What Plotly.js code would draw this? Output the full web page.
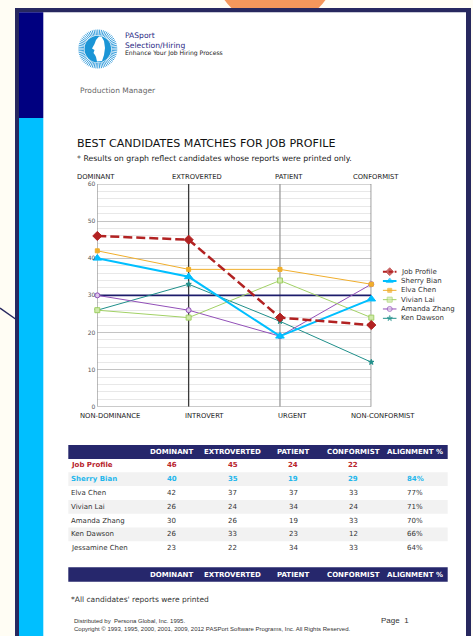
<!DOCTYPE html>
<html><head><meta charset="utf-8">
<script src="https://cdn.plot.ly/plotly-3.0.1.min.js"></script>
<style>html,body{margin:0;padding:0;background:#fffdf4;}#chart{width:473px;height:636px;}</style>
</head><body><div id="chart"></div>
<script>
const W = 473, H = 636;
// ---- data ----
const categories = ['DOMINANT', 'EXTROVERTED', 'PATIENT', 'CONFORMIST'];
const lowLabels = ['NON-DOMINANCE', 'INTROVERT', 'URGENT', 'NON-CONFORMIST'];
const seriesNames = ['Job Profile', 'Sherry Bian', 'Elva Chen', 'Vivian Lai', 'Amanda Zhang', 'Ken Dawson'];
const jobProfile = [46, 45, 24, 22];
const sherryBian = [40, 35, 19, 29];
const elvaChen = [42, 37, 37, 33];
const vivianLai = [26, 24, 34, 24];
const amandaZhang = [30, 26, 19, 33];
const kenDawson = [26, 33, 23, 12];
const jessamineChen = [23, 22, 34, 33];
const referenceLevel = 30;
const tableHeaders = ['DOMINANT', 'EXTROVERTED', 'PATIENT', 'CONFORMIST', 'ALIGNMENT %'];
const tableNames = ['Job Profile', 'Sherry Bian', 'Elva Chen', 'Vivian Lai', 'Amanda Zhang', 'Ken Dawson', 'Jessamine Chen'];
const tableScores = [jobProfile, sherryBian, elvaChen, vivianLai, amandaZhang, kenDawson, jessamineChen];
const alignment = ['', '84%', '77%', '71%', '70%', '66%', '64%'];

// ---- helpers ----
const px = x => x / W, py = y => 1 - y / H;
const FONT = 'DejaVu Sans';
const NAVY = '#27285f';
const styles = [
  {color: '#b22222', width: 2.5, dash: '9px,4px', symbol: 'diamond', size: 7, fill: '#b22222'},
  {color: '#00bfff', width: 2, dash: 'solid', symbol: 'triangle-up', size: 7.5, fill: '#00bfff'},
  {color: '#f0ae2c', width: 1, dash: 'solid', symbol: 'square', size: 4, fill: '#f0ae2c'},
  {color: '#a2d166', width: 1, dash: 'solid', symbol: 'square', size: 5, fill: '#cfe9a8'},
  {color: '#9250b8', width: 1, dash: 'solid', symbol: 'circle', size: 5, fill: '#dcc6ea'},
  {color: '#1f8f8a', width: 1, dash: 'solid', symbol: 'star', size: 4, fill: '#1f8f8a'}
];
const seriesData = [jobProfile, sherryBian, elvaChen, vivianLai, amandaZhang, kenDawson];

const traces = seriesData.map((vals, i) => ({
  type: 'scatter', mode: 'lines+markers', x: categories, y: vals, name: seriesNames[i],
  xaxis: 'x', yaxis: 'y', cliponaxis: false, showlegend: false, hoverinfo: 'skip',
  line: {color: styles[i].color, width: styles[i].width, dash: styles[i].dash},
  marker: {symbol: styles[i].symbol, size: styles[i].size, color: styles[i].fill,
           line: {color: styles[i].color, width: 1}}
})).reverse();

// legend samples on an overlay axis
seriesNames.forEach((n, i) => {
  traces.push({
    type: 'scatter', mode: 'lines+markers', x: [0, 0.5, 1], y: [i, i, i],
    xaxis: 'x2', yaxis: 'y2', cliponaxis: false, showlegend: false, hoverinfo: 'skip',
    line: {color: styles[i].color, width: Math.min(styles[i].width, 2), dash: i === 0 ? '4px,2px' : 'solid'},
    marker: {symbol: styles[i].symbol, size: [0, Math.min(styles[i].size, 6), 0], color: styles[i].fill,
             line: {color: styles[i].color, width: 1}}
  });
});

const shapes = [];
const rect = (x0, y0, x1, y1, fill, extra) => shapes.push(Object.assign({
  type: 'rect', xref: 'paper', yref: 'paper', x0: px(x0), x1: px(x1), y0: py(y1), y1: py(y0),
  fillcolor: fill, line: {width: 0}, layer: 'below'}, extra || {}));

// page decoration
shapes.push({type: 'circle', xref: 'paper', yref: 'paper', x0: px(213), x1: px(337), y0: py(26), y1: py(-98),
  fillcolor: '#f5975c', line: {width: 0}, layer: 'below'});
rect(15, 8, 471, 636, NAVY);
rect(19, 12.3, 466, 636, '#ffffff');
rect(19, 12.3, 43.3, 118, '#000080');
rect(19, 118, 43.3, 636, '#00bfff');
shapes.push({type: 'line', xref: 'paper', yref: 'paper', x0: px(0), y0: py(308), x1: px(15.5), y1: py(319),
  line: {color: NAVY, width: 1.5}, layer: 'below'});

// logo
(function () {
  const cx = 97.8, cy = 49;
  let p = '';
  for (let k = 0; k < 64; k++) {
    const a = k / 64 * 2 * Math.PI;
    const x0 = cx + 13.8 * Math.cos(a), y0 = cy + 13.8 * Math.sin(a);
    const x1 = cx + 19.5 * Math.cos(a), y1 = cy + 19.5 * Math.sin(a);
    p += `M${px(x0)},${py(y0)}L${px(x1)},${py(y1)}`;
  }
  shapes.push({type: 'path', xref: 'paper', yref: 'paper', path: p, line: {color: '#3fa2de', width: 1}, layer: 'below'});
  shapes.push({type: 'circle', xref: 'paper', yref: 'paper', x0: px(cx - 13.3), x1: px(cx + 13.3), y0: py(cy + 13.3), y1: py(cy - 13.3),
    fillcolor: '#1b95d6', line: {width: 0}, layer: 'below'});
  const face = [[99, 36.5], [96, 40], [94.5, 44], [92, 48.5], [94.5, 50], [93.5, 53], [95, 55], [96, 57], [97, 61.5],
    [102, 61], [104, 55], [105, 48], [104, 41], [101.5, 36.5]];
  shapes.push({type: 'path', xref: 'paper', yref: 'paper',
    path: 'M' + face.map(q => px(q[0]) + ',' + py(q[1])).join('L') + 'Z',
    fillcolor: '#ffffff', line: {width: 0}, layer: 'below'});
})();

// chart reference lines
const vColors = ['#9a9a9a', '#3a3a3a', '#9a9a9a', '#6a6a6a'];
[0, 60].forEach(v => shapes.push({type: 'line', xref: 'x', yref: 'y', x0: 0, x1: 3, y0: v, y1: v,
  line: {color: '#a8a8a8', width: 1}, layer: 'between'}));
categories.forEach((c, i) => shapes.push({type: 'line', xref: 'x', yref: 'y', x0: i, x1: i, y0: 0, y1: 60,
  line: {color: vColors[i], width: 1.3}, layer: 'between'}));
shapes.push({type: 'line', xref: 'x', yref: 'y', x0: 0, x1: 3, y0: referenceLevel, y1: referenceLevel,
  line: {color: '#1c1c6b', width: 1.6}, layer: 'between'});

// table bars
const colX = [171.7, 232.5, 293.3, 353.3, 415];
const rowY0 = 465.3, rowStep = 13.83;
rect(68.3, 445, 447.7, 459, '#26276c');
rect(68.3, 567.3, 447.7, 581.7, '#26276c');
tableNames.forEach((n, r) => {
  if (r % 2 === 1) rect(68.3, rowY0 + r * rowStep - rowStep / 2, 447.7, rowY0 + r * rowStep + rowStep / 2, '#f2f2f2');
});

// annotations
const ann = [];
const T = (text, x, y, o) => ann.push(Object.assign({
  text: text, xref: 'paper', yref: 'paper', x: px(x), y: py(y), showarrow: false,
  xanchor: 'left', yanchor: 'middle', borderpad: 0,
  font: {family: FONT, size: 7, color: '#222'}}, o || {}));

T('PASport', 124, 36, {font: {family: FONT, size: 7.6, color: '#2b2b85'}});
T('Selection/Hiring', 124, 45, {font: {family: FONT, size: 7.6, color: '#2b2b85'}});
T('Enhance Your Job Hiring Process', 124, 53.3, {font: {family: FONT, size: 6.1, color: '#222'}});
T('Production Manager', 79, 90.7, {font: {family: FONT, size: 7.5, color: '#666'}});
T('BEST CANDIDATES MATCHES FOR JOB PROFILE', 76, 143.3, {font: {family: FONT, size: 11.1, color: '#111'}});
T('* Results on graph reflect candidates whose reports were printed only.', 76, 158.3, {font: {family: FONT, size: 7.8, color: '#222'}});

const topX = [96, 196.7, 289, 376], lowX = [110, 204.7, 292, 382.5];
categories.forEach((c, i) => T(c, topX[i], 176.7, {xanchor: 'center', font: {family: FONT, size: 6.8, color: '#222'}}));
lowLabels.forEach((c, i) => T(c, lowX[i], 415.7, {xanchor: 'center', font: {family: FONT, size: 6.8, color: '#222'}}));

seriesNames.forEach((n, i) => ann.push({text: n, xref: 'paper', yref: 'y2', x: px(400), y: i, showarrow: false,
  xanchor: 'left', yanchor: 'middle', borderpad: 0, font: {family: FONT, size: 7, color: '#333'}}));

[452, 574.5].forEach(yy => tableHeaders.forEach((h, j) =>
  T(h, colX[j], yy, {xanchor: 'center', font: {family: FONT, size: 7, color: '#ffffff', weight: 700}})));

tableNames.forEach((n, r) => {
  const y = rowY0 + r * rowStep;
  const col = r === 0 ? '#b8232b' : (r === 1 ? '#1fb7ec' : '#333');
  const wt = r < 2 ? 700 : 400;
  T(n, 70, y, {font: {family: FONT, size: 7, color: col, weight: wt}});
  tableScores[r].forEach((v, j) => T(String(v), colX[j], y, {xanchor: 'center', font: {family: FONT, size: 7, color: col, weight: wt}}));
  if (alignment[r]) T(alignment[r], colX[4], y, {xanchor: 'center', font: {family: FONT, size: 7, color: col, weight: wt}});
});

T("*All candidates' reports were printed", 70, 599.3, {font: {family: FONT, size: 7.5, color: '#333'}});
T('Distributed by&nbsp; Persona Global, Inc. 1995.', 73, 620.7, {font: {family: 'Liberation Sans', size: 6, color: '#333'}});
T('Copyright \u00a9 1993, 1995, 2000, 2001, 2009, 2012 PASPort Software Programs, Inc. All Rights Reserved.', 73, 629,
  {font: {family: 'Liberation Sans', size: 6, color: '#333'}});
T('Page&nbsp; 1', 380, 620, {font: {family: 'Liberation Sans', size: 8, color: '#333'}});

const layout = {
  width: W, height: H, margin: {l: 0, r: 0, t: 0, b: 0, pad: 0},
  paper_bgcolor: '#fffdf4', plot_bgcolor: 'rgba(0,0,0,0)', showlegend: false,
  font: {family: FONT},
  xaxis: {type: 'category', categoryarray: categories, range: [0, 3], domain: [px(97.3), px(371.3)],
    showgrid: false, zeroline: false, showticklabels: false, showline: false, ticks: '', fixedrange: true, anchor: 'y'},
  yaxis: {range: [0, 60], domain: [py(406.7), py(184)], tick0: 0, dtick: 10, gridcolor: '#c4c4c4', gridwidth: 1,
    minor: {dtick: 2, showgrid: true, gridcolor: '#e8e8e8', gridwidth: 1},
    zeroline: false, showline: false, ticks: '', ticklabelstandoff: 1,
    tickfont: {family: FONT, size: 6, color: '#555'}, fixedrange: true, anchor: 'x'},
  xaxis2: {domain: [px(382.7), px(396.7)], range: [0, 1], visible: false, anchor: 'y2', fixedrange: true},
  yaxis2: {domain: [py(322.96), py(267.04)], range: [5.5, -0.5], visible: false, anchor: 'x2', fixedrange: true},
  shapes: shapes, annotations: ann
};
Plotly.newPlot('chart', traces, layout, {displayModeBar: false, staticPlot: true});
</script></body></html>
